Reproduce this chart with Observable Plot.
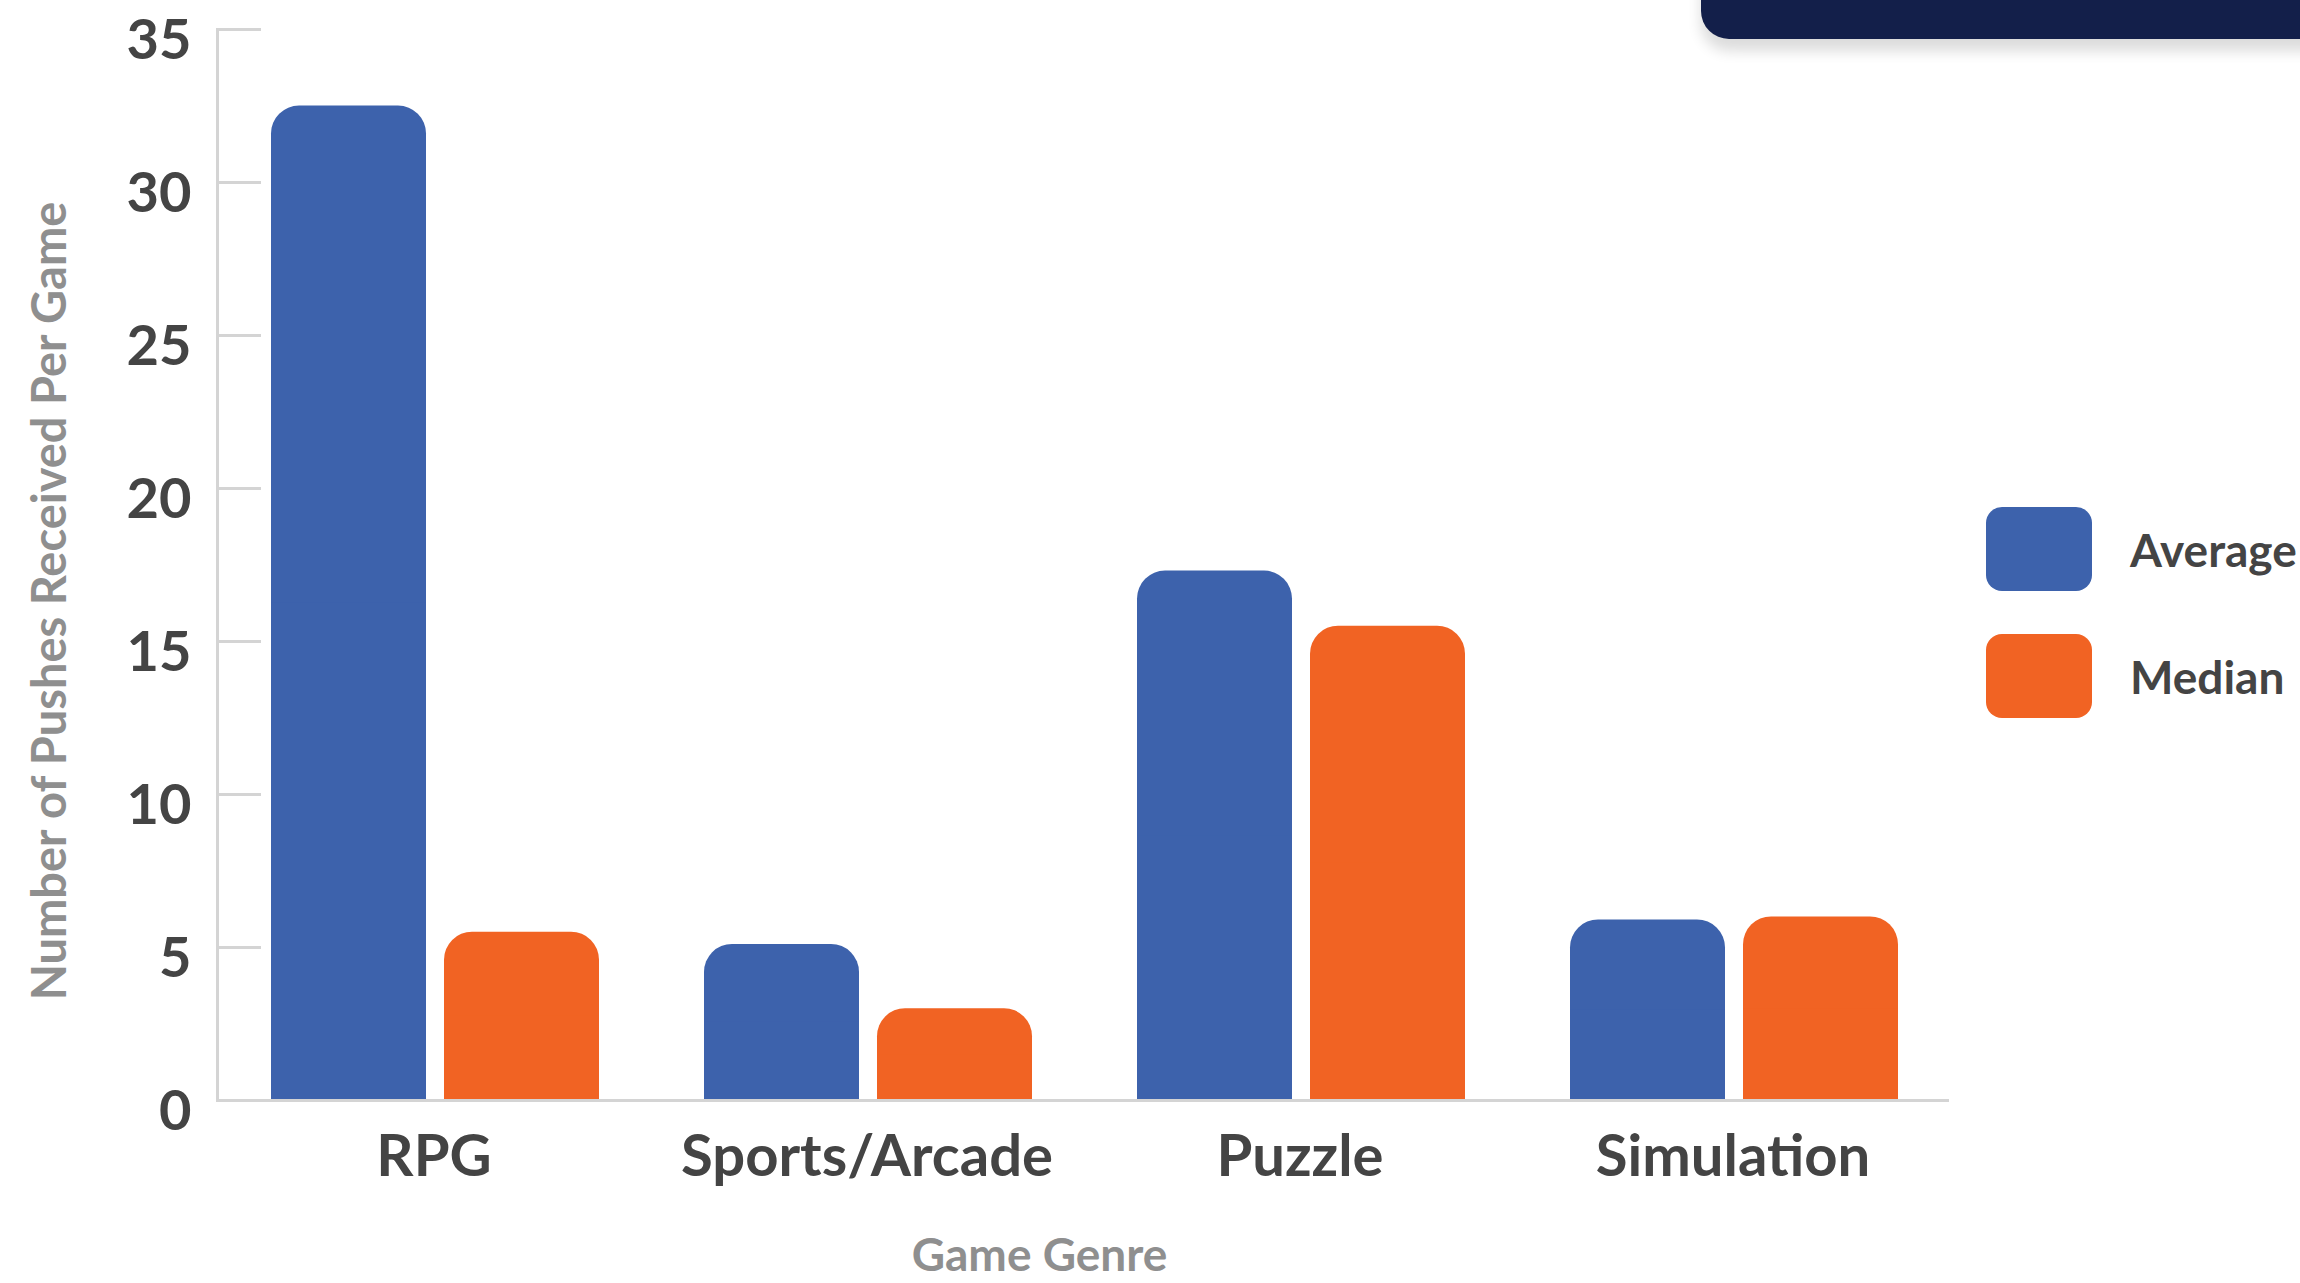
<!DOCTYPE html>
<html><head><meta charset="utf-8">
<script src="https://cdn.jsdelivr.net/npm/d3@7"></script>
<script src="https://cdn.jsdelivr.net/npm/@observablehq/plot@0.6"></script>
<style>
body{margin:0;background:#fff;overflow:hidden;font-family:Lato, "Noto Sans", sans-serif;}
#wrap{position:relative;width:2300px;height:1283px;overflow:hidden;}
#banner{position:absolute;left:1701px;top:-40px;width:700px;height:79px;background:#131f4a;border-bottom-left-radius:28px;box-shadow:0 12px 14px rgba(0,0,0,0.14);}
.lg{position:absolute;display:flex;align-items:center;}
.sw{width:106px;height:84px;border-radius:16px;}
.lt{margin-left:38px;font-size:46px;font-weight:700;color:#444;white-space:nowrap;}
</style></head><body><div id="wrap"><div id="banner"></div></div><script>
const genres = ["RPG", "Sports/Arcade", "Puzzle", "Simulation"];
const series = ["Average", "Median"];
const averageValues = [32.5, 5.1, 17.3, 5.9];
const medianValues = [5.5, 3.0, 15.5, 6.0];
const yTicks = [0, 5, 10, 15, 20, 25, 30, 35];
const colors = ["#3D62AC", "#F16323"];
const yLabel = "Number of Pushes Received Per Game";
const xLabel = "Game Genre";

const data = genres.flatMap((g, i) => [
  {genre: g, series: series[0], value: averageValues[i]},
  {genre: g, series: series[1], value: medianValues[i]}
]);

const W = 2300, H = 1283, mL = 217, mR = 351, mT = 29, mB = 183;
const frameW = W - mL - mR;
const insets = [{insetLeft: 54, insetRight: 224}, {insetLeft: 227, insetRight: 51}];

const barMarks = series.flatMap((s, k) => {
  const d = data.filter(r => r.series === s);
  return [
    Plot.barY(d, {x: "genre", y: "value", fill: "series", rx: 28, ...insets[k]}),
    Plot.barY(d, {x: "genre", y1: 0, y2: r => r.value / 2, fill: "series", ...insets[k]})
  ];
});

const chart = Plot.plot({
  width: W, height: H, marginLeft: mL, marginRight: mR, marginTop: mT, marginBottom: mB,
  style: {fontFamily: "Lato, 'Noto Sans', sans-serif", background: "transparent", overflow: "visible"},
  x: {domain: genres, padding: 0, axis: null},
  y: {domain: [0, 35], axis: null},
  color: {domain: series, range: colors},
  marks: [
    Plot.tickY(yTicks, {y: d => d, stroke: "#d4d4d4", strokeWidth: 3, insetRight: frameW - 44}),
    Plot.frame({anchor: "left", stroke: "#d4d4d4", strokeWidth: 3}),
    ...barMarks,
    Plot.ruleY([0], {stroke: "#d4d4d4", strokeWidth: 3}),
    Plot.axisY({ticks: yTicks, tickSize: 0, tickPadding: 26, fontSize: 56, fontWeight: 700, fill: "#444", dy: 12, label: null}),
    Plot.axisX({tickSize: 0, tickPadding: 34, fontSize: 58, fontWeight: 700, fill: "#444", label: null}),
    Plot.text([yLabel], {frameAnchor: "left", textAnchor: "middle", lineAnchor: "middle", dx: -167, dy: 36, rotate: -90, fontSize: 47, fontWeight: 700, fill: "#8f8f8f"}),
    Plot.text([xLabel], {frameAnchor: "bottom", textAnchor: "middle", lineAnchor: "middle", dx: -44, dy: 156, fontSize: 46, fontWeight: 700, fill: "#8f8f8f"})
  ]
});
const wrap = document.getElementById("wrap");
chart.style.position = "absolute";
chart.style.left = "0px";
chart.style.top = "0px";
wrap.insertBefore(chart, wrap.firstChild);

series.forEach((s, i) => {
  const item = document.createElement("div");
  item.className = "lg";
  item.style.left = "1986px";
  item.style.top = (507 + i * 127) + "px";
  const sw = document.createElement("div");
  sw.className = "sw";
  sw.style.background = colors[i];
  const t = document.createElement("div");
  t.className = "lt";
  t.textContent = s;
  item.appendChild(sw);
  item.appendChild(t);
  wrap.appendChild(item);
});
</script></body></html>
